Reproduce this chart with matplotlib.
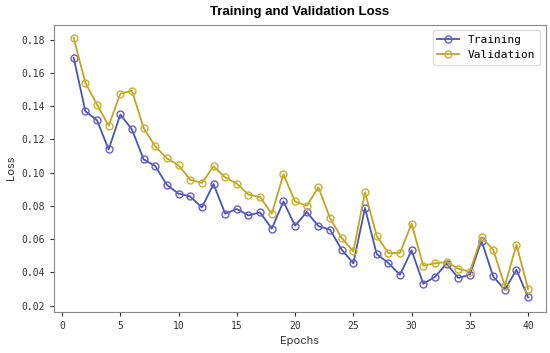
import matplotlib
matplotlib.use("Agg")
import matplotlib.pyplot as plt

epochs = list(range(1, 41))
training_loss = [0.169, 0.137, 0.1315, 0.114, 0.135, 0.126, 0.108, 0.104, 0.0926, 0.0874,
                 0.0857, 0.0791, 0.0932, 0.0753, 0.0782, 0.0743, 0.0761, 0.0663, 0.0827, 0.0681,
                 0.0764, 0.0679, 0.0657, 0.0537, 0.0455, 0.0788, 0.0511, 0.0457, 0.0386, 0.0533,
                 0.0332, 0.0373, 0.0453, 0.0367, 0.0386, 0.0591, 0.0376, 0.0296, 0.0416, 0.025]
validation_loss = [0.181, 0.154, 0.1409, 0.1283, 0.1475, 0.1493, 0.1269, 0.1158, 0.1086, 0.1044,
                   0.0958, 0.0938, 0.1038, 0.0972, 0.0934, 0.0868, 0.0854, 0.0753, 0.099, 0.0827,
                   0.0801, 0.0912, 0.0727, 0.0607, 0.0527, 0.0882, 0.0621, 0.0517, 0.0517, 0.0693,
                   0.0441, 0.0455, 0.0463, 0.0423, 0.0405, 0.0613, 0.0537, 0.032, 0.0567, 0.030]

mono = "DejaVu Sans Mono"

fig, ax = plt.subplots(figsize=(5.5, 3.53), dpi=100)
fig.subplots_adjust(left=0.098, right=0.992, top=0.93, bottom=0.117)

ax.plot(epochs, training_loss, color="#4656b4", marker="o", markersize=5,
        markerfacecolor="none", markeredgecolor="#6a5acd", linewidth=1.3, label="Training")
ax.plot(epochs, validation_loss, color="#c2a423", marker="o", markersize=5,
        markerfacecolor="none", markeredgecolor="#c8b22a", linewidth=1.3, label="Validation")

ax.set_xlim(-0.7, 41.5)
ax.set_ylim(0.0164, 0.189)
ax.set_xticks(range(0, 41, 5))
ax.set_yticks([0.02, 0.04, 0.06, 0.08, 0.10, 0.12, 0.14, 0.16, 0.18])
ax.set_yticklabels([f"{v:.2f}" for v in ax.get_yticks()])

for lbl in ax.get_xticklabels() + ax.get_yticklabels():
    lbl.set_fontfamily(mono)
    lbl.set_fontsize(7)
    lbl.set_color("#333333")
ax.tick_params(length=3, width=0.8, color="#333333")

for s in ax.spines.values():
    s.set_color("#888888")

ax.set_title("Training and Validation Loss", fontsize=9.5, fontweight="bold",
             family="Liberation Sans", pad=7)
ax.set_xlabel("Epochs", fontsize=8, family="Inter", color="#333333")
ax.set_ylabel("Loss", fontsize=8, family="Inter", color="#333333")

leg = ax.legend(loc="upper right", prop={"family": mono, "size": 8}, framealpha=1,
                edgecolor="#dddddd", handlelength=2.0)

plt.savefig("out.png")
